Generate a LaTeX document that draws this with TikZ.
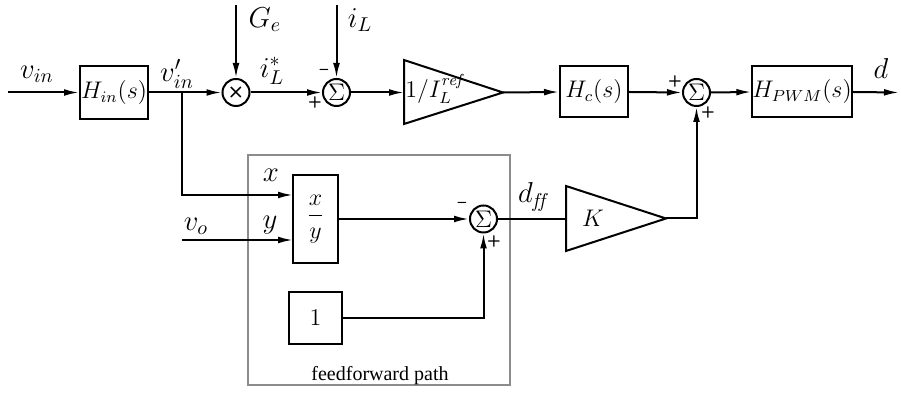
\documentclass[tikz,border=0pt]{standalone}
\usepackage{fontspec}
\newfontfamily\timesfont{Liberation Serif}
\usetikzlibrary{arrows.meta,calc}
\begin{document}
\begin{tikzpicture}[x=0.5pt,y=-0.5pt,line width=1pt,
  blk/.style={draw,line width=1pt,inner sep=0pt,font=\large},
  sumc/.style={draw,circle,minimum size=13.5pt,inner sep=0pt,line width=1pt},
  arr/.style={-{Latex[length=7.5pt,width=3.4pt]}},
  lbl/.style={font=\Large,inner sep=0pt},
  sgn/.style={font=\sffamily\bfseries\fontsize{8}{8}\selectfont,inner sep=0pt}]
\useasboundingbox (0,0) rectangle (901,399);
% gray frame
\draw[draw=black!45,line width=1pt] (248,155) rectangle (510,385);
\node[font=\timesfont\normalsize] (fftext) at (380,376) {feedforward path};
% main row
\coordinate (vin) at (8,92.5);
\node[blk,minimum width=34pt,minimum height=26.5pt] (hin) at (114,92.5) {$H_{in}(s)$};
\node[sumc,font=\sffamily\bfseries\normalsize] (mul) at (236,92.5) {×};
\node[sumc] (s1) at (336.5,92.5) {\large$\Sigma$};
\draw (404,60) -- (503,92.5) -- (404,124) -- cycle;
\coordinate (ampin) at (404,92.5);
\coordinate (ampout) at (503,92.5);
\node[font=\large,inner sep=0pt] (amplbl) at (434,89) {$1/I_L^{\mathit{ref}}$};
\node[blk,minimum width=34pt,minimum height=25.5pt] (hc) at (594,92) {$H_c(s)$};
\node[sumc] (s2) at (696.5,92.5) {\large$\Sigma$};
\node[blk,minimum width=46pt,minimum height=25.5pt] (hpwm) at (802,92) {$H_{PWM}(s)$};
\coordinate (dout) at (899,92.5);
\coordinate (ge) at (236,5);
\coordinate (il) at (336.5,5);
% feedforward
\coordinate (tap) at (182,92.5);
\node[blk,minimum width=22.5pt,minimum height=44pt,font=\large] (xy) at (315.5,219) {$\displaystyle\frac{x}{y}$};
\coordinate (xport) at (293,195);
\coordinate (yport) at (293,240);
\coordinate (vo) at (182,240);
\node[blk,minimum width=26.5pt,minimum height=26pt,font=\large] (one) at (315.5,318) {$1$};
\node[sumc] (s3) at (483.5,219) {\large$\Sigma$};
\draw (566,186) -- (666,218.5) -- (566,251) -- cycle;
\coordinate (kin) at (566,219);
\coordinate (kout) at (666,218.5);
\node[font=\large,inner sep=0pt] (klbl) at (593,218) {$K$};
% connectors
\draw[arr] (vin) -- (hin.west);
\draw[arr] (hin.east) -- (mul.west);
\draw[arr] (ge) -- (mul.north);
\draw[arr] (mul.east) -- (s1.west);
\draw[arr] (il) -- (s1.north);
\draw[arr] (s1.east) -- (ampin);
\draw[arr] (ampout) -- (hc.west);
\draw[arr] (hc.east) -- (s2.west);
\draw[arr] (s2.east) -- (hpwm.west);
\draw[arr] (hpwm.east) -- (dout);
\draw[arr] (tap) |- (xport);
\draw[arr] (vo) -- (yport);
\draw[arr] (xy.east |- s3.west) -- (s3.west);
\draw[arr] (one.east) -| (s3.south);
\draw (s3.east) -- (kin);
\draw[arr] (kout) -| (s2.south);
% labels
\node[lbl] (lvin) at (37,74) {$v_{in}$};
\node[lbl] (lvinp) at (177,74) {$v'_{in}$};
\node[lbl] (lge) at (265,20) {$G_e$};
\node[lbl] (lil) at (360,20) {$i_L$};
\node[lbl] (lils) at (272,71) {$i_L^*$};
\node[lbl] (ld) at (881,69) {$d$};
\node[lbl] (lx) at (271,175) {$x$};
\node[lbl] (ly) at (270,225) {$y$};
\node[lbl] (lvo) at (196,226) {$v_o$};
\node[lbl] (ldff) at (532,197) {$d_{\mathit{ff}}$};
% signs
\node[sgn] (p1) at (324,72) {–};
\node[sgn] (p2) at (315,103) {+};
\node[sgn] (p3) at (675,82) {+};
\node[sgn] (p4) at (708,113) {+};
\node[sgn] (p5) at (462,205) {–};
\node[sgn] (p6) at (494,242) {+};
\end{tikzpicture}
\end{document}
